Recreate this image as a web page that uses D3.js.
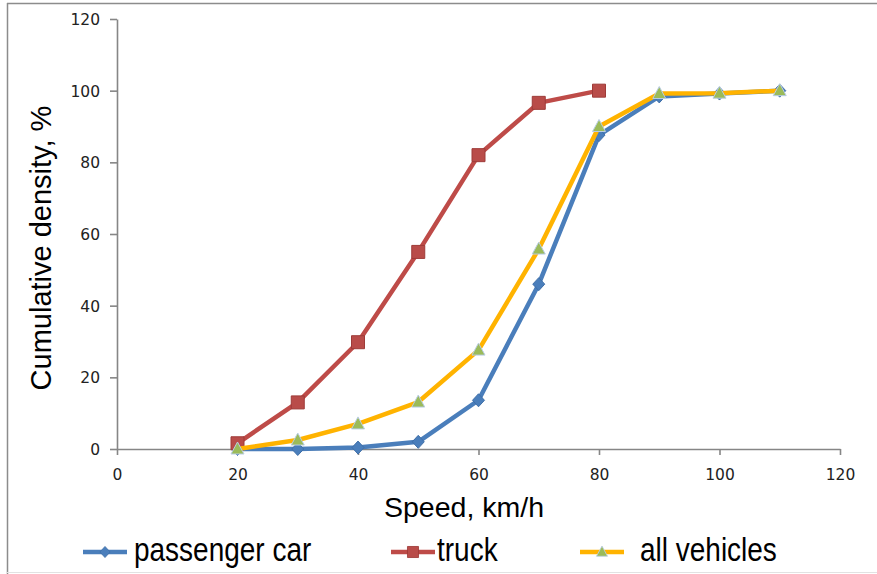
<!DOCTYPE html>
<html>
<head>
<meta charset="utf-8">
<script src="https://cdn.jsdelivr.net/npm/d3@7.9.0/dist/d3.min.js"></script>
<style>
  html, body { margin: 0; padding: 0; background: #fff; }
  svg { display: block; }
  .tick text { font-family: "DejaVu Sans", sans-serif; font-size: 15.5px; fill: #222; }
  .title { font-family: "Liberation Sans", Arial, sans-serif; fill: #000; }
</style>
</head>
<body>
<div id="chart"></div>
<script>
// data
const speeds = [20, 30, 40, 50, 60, 70, 80, 90, 100, 110];
const passengerCar = [0, 0, 0.4, 2, 13.6, 46, 87.6, 98.4, 99.2, 100];
const truck = [1.6, 13, 29.8, 55, 82, 96.6, 100];
const allVehicles = [0, 2.5, 7, 13.1, 27.6, 55.8, 90, 99.2, 99.3, 100];
const seriesNames = ['passenger car', 'truck', 'all vehicles'];
const xTicks = [0, 20, 40, 60, 80, 100, 120];
const yTicks = [0, 20, 40, 60, 80, 100, 120];

const width = 877;
const height = 574;
const margin = { top: 19, right: 37, bottom: 125, left: 117 };

const series = [
  { name: seriesNames[0], values: passengerCar, color: '#4a7ebb', shape: 'diamond', fill: '#4a7ebb', stroke: '#3f6fa8' },
  { name: seriesNames[1], values: truck, color: '#be4b48', shape: 'square', fill: '#b94c49', stroke: '#9e3b38' },
  { name: seriesNames[2], values: allVehicles, color: '#ffb300', shape: 'triangle', fill: '#9bbb59', stroke: '#b9cde5' }
];

const svg = d3.select('#chart').append('svg')
  .attr('width', width)
  .attr('height', height);

// frame of the pasted picture
svg.append('line').attr('x1', 7.5).attr('x2', 7.5).attr('y1', 3).attr('y2', height)
  .attr('stroke', '#8c8c8c').attr('stroke-width', 1.5);
svg.append('line').attr('x1', 7).attr('x2', width).attr('y1', 3.5).attr('y2', 3.5)
  .attr('stroke', '#8c8c8c').attr('stroke-width', 1.5);
svg.append('line').attr('x1', 7).attr('x2', width).attr('y1', 572.5).attr('y2', 572.5)
  .attr('stroke', '#e2e2e2').attr('stroke-width', 1);

const xScale = d3.scaleLinear()
  .domain([0, 120])
  .range([margin.left, width - margin.right]);

const yScale = d3.scaleLinear()
  .domain([0, 120])
  .range([height - margin.bottom, margin.top]);

// axes
const yAxis = svg.append('g')
  .attr('transform', `translate(${margin.left}, 0)`)
  .call(d3.axisLeft(yScale).tickValues(yTicks).tickSize(7).tickSizeOuter(0).tickPadding(10));

const xAxis = svg.append('g')
  .attr('transform', `translate(0, ${yScale(0)})`)
  .call(d3.axisBottom(xScale).tickValues(xTicks).tickSize(6).tickSizeOuter(0).tickPadding(14));

[yAxis, xAxis].forEach(ax => {
  ax.select('.domain').attr('stroke', '#868686').attr('stroke-width', 1.6);
  ax.selectAll('.tick line').attr('stroke', '#868686').attr('stroke-width', 1.6);
});
yAxis.selectAll('.tick text').attr('dy', '0.36em');
xAxis.selectAll('.tick text').attr('dy', '0.71em');

// axis titles
svg.append('text')
  .attr('class', 'title')
  .attr('x', 464)
  .attr('y', 517)
  .attr('text-anchor', 'middle')
  .style('font-size', '28.5px')
  .text('Speed, km/h');

svg.append('text')
  .attr('class', 'title')
  .attr('transform', `translate(51, 248) rotate(-90)`)
  .attr('text-anchor', 'middle')
  .style('font-size', '29px')
  .text('Cumulative density, %');

// marker shapes
function marker(shape) {
  if (shape === 'diamond') return 'M0,-6.5L6,0L0,6.5L-6,0Z';
  if (shape === 'square') return 'M-6.5,-6.5H6.5V6.5H-6.5Z';
  return 'M0,-7L6.5,5H-6.5Z';
}

const line = d3.line()
  .x((d, i) => xScale(speeds[i]))
  .y(d => yScale(d));

const plot = svg.append('g').attr('class', 'series');

series.forEach(s => {
  const g = plot.append('g');
  g.append('path')
    .datum(s.values)
    .attr('d', line)
    .attr('fill', 'none')
    .attr('stroke', s.color)
    .attr('stroke-width', 4.5)
    .attr('stroke-linejoin', 'round');

  g.selectAll('path.pt')
    .data(s.values)
    .join('path')
    .attr('class', 'pt')
    .attr('d', marker(s.shape))
    .attr('transform', (d, i) => `translate(${xScale(speeds[i])}, ${yScale(d)})`)
    .attr('fill', s.fill)
    .attr('stroke', s.stroke)
    .attr('stroke-width', 1);
});

// legend
const legendPos = [83, 391, 580];
const legendText = [134, 437, 640];
const legend = svg.append('g').attr('class', 'legend');
series.forEach((s, i) => {
  const g = legend.append('g');
  g.append('line')
    .attr('x1', legendPos[i]).attr('x2', legendPos[i] + 44)
    .attr('y1', 552).attr('y2', 552)
    .attr('stroke', s.color).attr('stroke-width', 4.5);
  g.append('path')
    .attr('d', marker(s.shape))
    .attr('transform', `translate(${legendPos[i] + 22}, 552) scale(0.85)`)
    .attr('fill', s.fill)
    .attr('stroke', s.stroke)
    .attr('stroke-width', 1);
  g.append('text')
    .attr('class', 'title')
    .attr('transform', `translate(${legendText[i]}, 561) scale(1, 1.2)`)
    .style('font-size', '28px')
    .text(s.name);
});
</script>
</body>
</html>
